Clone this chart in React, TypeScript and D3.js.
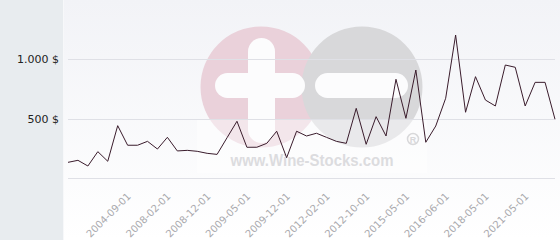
import React from "react";
import * as d3 from "d3";

const values: number[] = [
  132, 149, 101, 222, 141, 441, 276, 276, 309, 244,
  343, 228, 233, 225, 208, 199, 339, 478, 259, 259,
  292, 394, 171, 394, 354, 377, 343, 309, 292, 587,
  284, 517, 354, 832, 503, 910, 301, 438, 672, 1205,
  554, 854, 657, 607, 952, 933, 607, 806, 806, 495,
];
const tickDates: string[] = [
  "2004-09-01", "2008-02-01", "2008-12-01", "2009-05-01", "2009-12-01",
  "2012-02-01", "2012-10-01", "2015-05-01", "2016-06-01", "2018-05-01", "2021-05-01",
];
const tickPositions: number[] = [6, 10, 14, 18, 22, 26, 30, 34, 38, 42, 46];
const yTicks: number[] = [500, 1000];
const yTickLabels: string[] = ["500 $", "1.000 $"];

const W = 560;
const H = 240;

export default function App() {
  const idx = values.map((_, i) => i);
  const x = d3.scalePoint<number>().domain(idx).range([68, 555]);
  const y = d3.scaleLinear().domain([0, 1500]).range([178, 0]);
  const line = d3
    .line<number>()
    .x((_, i) => x(i) as number)
    .y((d) => y(d));

  return (
    <svg
      width={W}
      height={H}
      style={{ position: "absolute", left: 0, top: 0 }}
      fontFamily="DejaVu Sans"
    >
      <defs>
        <linearGradient id="bg" x1="0" y1="0" x2="0" y2="1">
          <stop offset="0" stopColor="#f2f3f7" />
          <stop offset="1" stopColor="#ffffff" />
        </linearGradient>
      </defs>
      <rect x={0} y={0} width={W} height={H} fill="#ffffff" />
      <rect x={0} y={0} width={63} height={H} fill="#e8ecef" />
      <rect x={63} y={0} width={W - 63} height={H} fill="url(#bg)" />
      <line x1={63.5} x2={63.5} y1={0} y2={H} stroke="#f7f8fa" />

      {/* watermark */}
      <g>
        <circle cx={261} cy={87} r={60.5} fill="#ead1da" />
        <circle cx={362} cy={87} r={60.5} fill="#d8d8da" />
        <rect x={248} y={38} width={27} height={105} rx={13.5} fill="#fcfcfd" />
        <rect x={215} y={73} width={90} height={25} rx={12.5} fill="#fcfcfd" />
        <rect x={315} y={73} width={93} height={25} rx={12.5} fill="#fcfcfd" />
        <rect x={197} y={120} width={230} height={53} fill="#ffffff" opacity={0.45} />
        <text
          x={312}
          y={166}
          textAnchor="middle"
          fontFamily="Liberation Sans"
          fontWeight="bold"
          fontSize={16.5}
          textLength={163}
          lengthAdjust="spacingAndGlyphs"
          fill="#dcdcdf"
        >
          www.Wine-Stocks.com
        </text>
        <circle cx={413} cy={139} r={5.5} fill="none" stroke="#d8d8da" strokeWidth={1.5} />
        <text
          x={413}
          y={142.5}
          textAnchor="middle"
          fontFamily="Liberation Sans"
          fontWeight="bold"
          fontSize={9}
          fill="#d8d8da"
        >
          R
        </text>
      </g>

      {/* gridlines */}
      {[0, ...yTicks].map((t) => (
        <line
          key={t}
          x1={68}
          x2={555}
          y1={Math.round(y(t)) + 0.5}
          y2={Math.round(y(t)) + 0.5}
          stroke="#dfe0e6"
          strokeWidth={1}
        />
      ))}

      {/* y labels */}
      {yTicks.map((t, i) => (
        <text
          key={t}
          x={59}
          y={y(t) + 4}
          textAnchor="end"
          fontSize={11}
          fill="#222"
        >
          {yTickLabels[i]}
        </text>
      ))}

      {/* x labels */}
      {tickPositions.map((p, i) => {
        const px = (x(p) as number) + 4;
        const py = 197;
        return (
          <text
            key={p}
            x={px}
            y={py}
            textAnchor="end"
            fontSize={10}
            fill="#a9a9ad"
            transform={`rotate(-45 ${px} ${py})`}
          >
            {tickDates[i]}
          </text>
        );
      })}

      <path d={line(values) || ""} fill="none" stroke="#3a1c2c" strokeWidth={1} />
    </svg>
  );
}
